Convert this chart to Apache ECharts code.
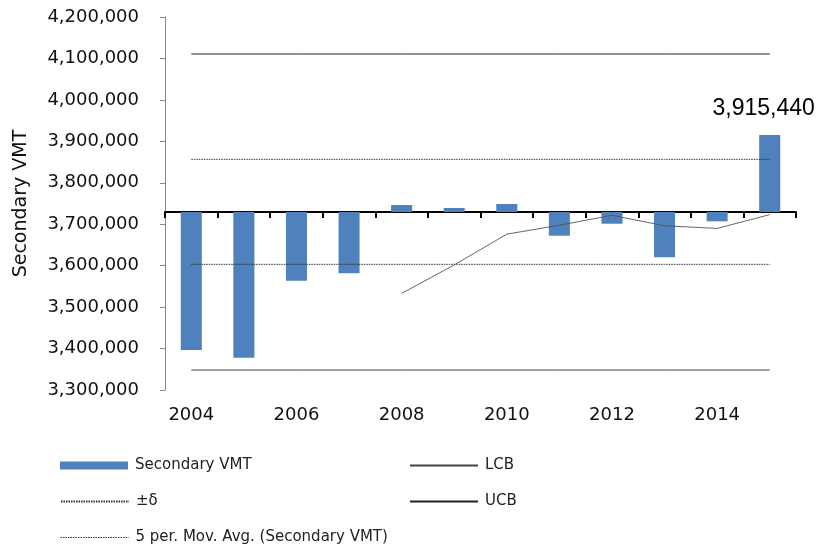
<!DOCTYPE html>
<html>
<head>
<meta charset="utf-8">
<script src="https://cdn.jsdelivr.net/npm/echarts@6/dist/echarts.min.js"></script>
<style>
html,body{margin:0;padding:0;background:#fff;}
#chart{width:819px;height:546px;}
</style>
</head>
<body>
<div id="chart"></div>
<script>
const categories = ['2004','2005','2006','2007','2008','2009','2010','2011','2012','2013','2014','2015'];
const secondaryVMT = [3396400, 3377800, 3563700, 3581500, 3746300, 3739100, 3748800, 3672300, 3701200, 3620100, 3707000, 3915440];
const movAvg5 = [null, null, null, null, 3533000, 3601700, 3676000, 3697600, 3721500, 3696300, 3689900, 3723200];
const ucbLine = [4110700, 4110700, 4110700, 4110700, 4110700, 4110700, 4110700, 4110700, 4110700, 4110700, 4110700, 4110700];
const lcbLine = [3348200, 3348200, 3348200, 3348200, 3348200, 3348200, 3348200, 3348200, 3348200, 3348200, 3348200, 3348200];
const deltaUpper = [3856600, 3856600, 3856600, 3856600, 3856600, 3856600, 3856600, 3856600, 3856600, 3856600, 3856600, 3856600];
const deltaLower = [3603200, 3603200, 3603200, 3603200, 3603200, 3603200, 3603200, 3603200, 3603200, 3603200, 3603200, 3603200];
const baseline = 3729440;
const yMin = 3300000, yMax = 4200000, yStep = 100000;
const yTickLabels = ['3,300,000','3,400,000','3,500,000','3,600,000','3,700,000','3,800,000','3,900,000','4,000,000','4,100,000','4,200,000'];

const FONT = 'DejaVu Sans';
const chart = echarts.init(document.getElementById('chart'), null, {renderer: 'canvas'});

const barData = secondaryVMT.map((v, i) => {
  const item = {value: v - baseline};
  if (i === secondaryVMT.length - 1) {
    item.label = {
      show: true, position: 'top', distance: 15, offset: [-6, 0],
      fontFamily: 'Liberation Sans', fontSize: 23, color: '#000',
      formatter: () => secondaryVMT[i].toLocaleString('en-US')
    };
  }
  return item;
});

const legendBase = {
  orient: 'vertical', itemWidth: 68, itemHeight: 8, itemGap: 0, padding: 0,
  textStyle: {fontFamily: FONT, fontSize: 15, color: '#222', padding: [0, 0, 0, 2]},
  selectedMode: false
};
const noSym = {opacity: 0};

const option = {
  animation: false,
  backgroundColor: '#fff',
  grid: {left: 165, right: 23, top: 17, bottom: 156, containLabel: false},
  xAxis: [
    {
      type: 'category', data: categories, position: 'bottom',
      axisLine: {show: false, onZero: false},
      axisTick: {show: false},
      axisLabel: {
        interval: 1, margin: 16, fontFamily: FONT, fontSize: 18, color: '#111'
      }
    },
    {
      type: 'category', data: categories, position: 'bottom',
      axisLine: {show: true, onZero: true, onZeroAxisIndex: 1, lineStyle: {color: '#000', width: 2}},
      axisTick: {show: true, interval: 0, length: 6, lineStyle: {color: '#000', width: 2}},
      axisLabel: {show: false}
    }
  ],
  yAxis: [
    {
      type: 'value', min: yMin, max: yMax, interval: yStep,
      name: 'Secondary VMT', nameLocation: 'middle', nameGap: 134, nameRotate: 90,
      nameTextStyle: {fontFamily: FONT, fontSize: 19, color: '#111'},
      axisLine: {show: true, lineStyle: {color: '#888', width: 1}},
      axisTick: {show: true, length: 5, lineStyle: {color: '#888'}},
      splitLine: {show: false},
      axisLabel: {
        margin: 26, fontFamily: FONT, fontSize: 18, color: '#111',
        formatter: (v) => yTickLabels[Math.round((v - yMin) / yStep)]
      }
    },
    {
      type: 'value', min: yMin - baseline, max: yMax - baseline,
      show: false, splitLine: {show: false}
    }
  ],
  legend: [
    Object.assign({}, legendBase, {left: 60, top: 458, data: [{name: 'Secondary VMT', icon: 'rect'}]}),
    Object.assign({}, legendBase, {left: 60, top: 494, data: [{name: '±δ', itemStyle: noSym}]}),
    Object.assign({}, legendBase, {left: 60, top: 530, data: [{name: '5 per. Mov. Avg. (Secondary VMT)', itemStyle: noSym, lineStyle: {type: [1.5, 1], width: 1, color: '#333'}}]}),
    Object.assign({}, legendBase, {left: 409, top: 458, data: [{name: 'LCB', itemStyle: noSym}]}),
    Object.assign({}, legendBase, {left: 409, top: 494, data: [{name: 'UCB', itemStyle: noSym}]})
  ],
  series: [
    {
      name: 'Secondary VMT', type: 'bar', xAxisIndex: 0, yAxisIndex: 1,
      data: barData, barWidth: '40%',
      itemStyle: {color: '#4F81BD'}, z: 2
    },
    {
      name: 'LCB', type: 'line', xAxisIndex: 0, yAxisIndex: 0, data: lcbLine,
      symbol: 'none', lineStyle: {color: '#444', width: 1}, itemStyle: {color: '#444'}, z: 3
    },
    {
      name: 'UCB', type: 'line', xAxisIndex: 0, yAxisIndex: 0, data: ucbLine,
      symbol: 'none', lineStyle: {color: '#222', width: 1}, itemStyle: {color: '#222'}, z: 3
    },
    {
      name: '±δ', type: 'line', xAxisIndex: 0, yAxisIndex: 0, data: deltaUpper,
      symbol: 'none', lineStyle: {color: '#333', width: 1, type: [1.5, 1]}, itemStyle: {color: '#333'}, z: 3
    },
    {
      name: '±δ', type: 'line', xAxisIndex: 0, yAxisIndex: 0, data: deltaLower,
      symbol: 'none', lineStyle: {color: '#333', width: 1, type: [1.5, 1]}, itemStyle: {color: '#333'}, z: 3
    },
    {
      name: '5 per. Mov. Avg. (Secondary VMT)', type: 'line', xAxisIndex: 0, yAxisIndex: 0, data: movAvg5,
      symbol: 'none', lineStyle: {color: '#555', width: 0.9}, itemStyle: {color: '#555'}, z: 3
    }
  ]
};
chart.setOption(option);
</script>
</body>
</html>
